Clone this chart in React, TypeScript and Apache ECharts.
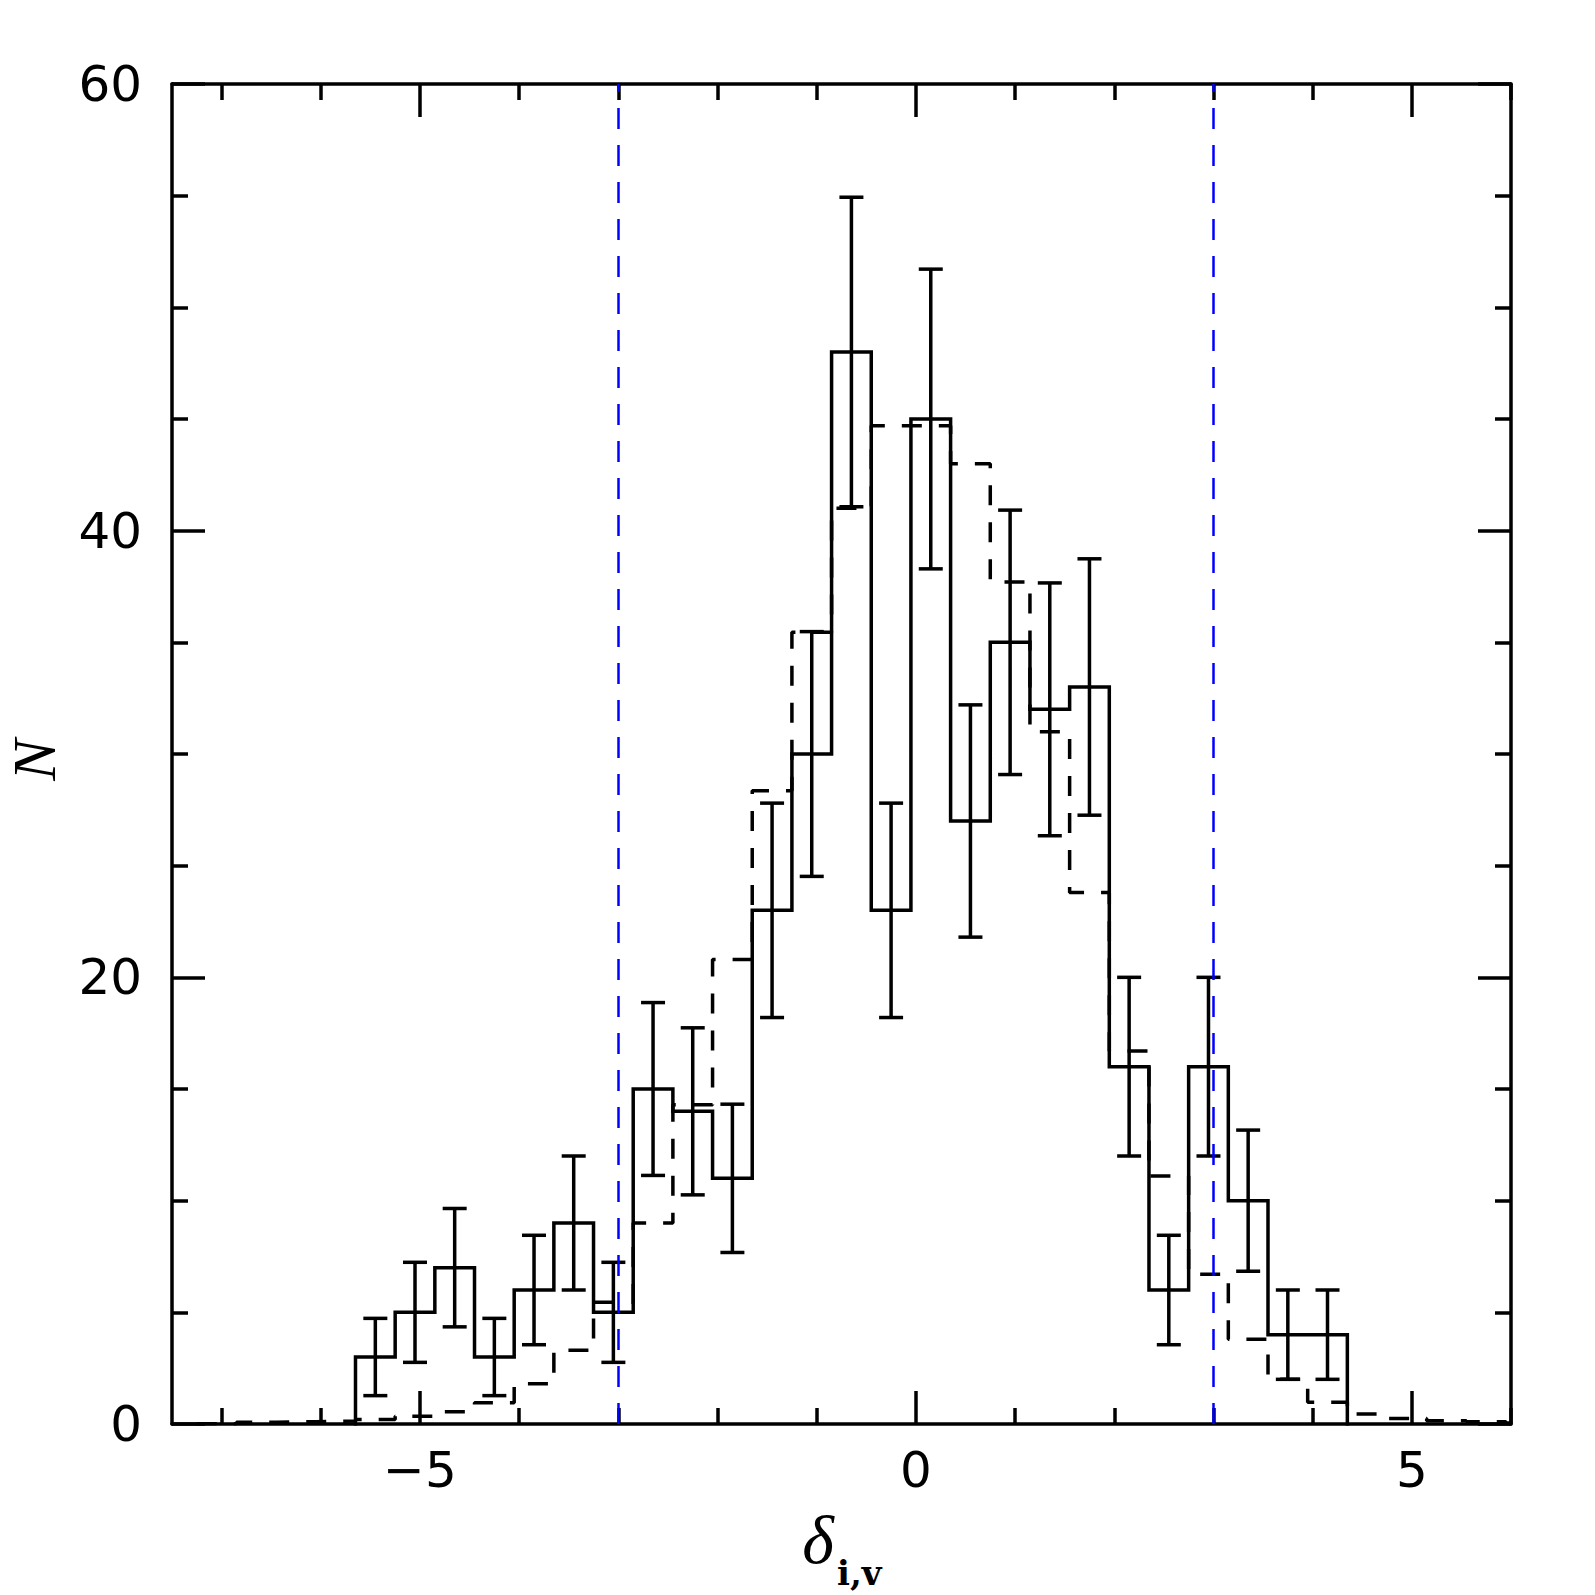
import React, { useEffect, useRef } from "react";
import * as echarts from "echarts";

// Bin edges of the observed histogram (solid)
const solidEdges = [
  -5.65, -5.25, -4.85, -4.45, -4.05, -3.65, -3.25, -2.85, -2.45, -2.05, -1.65,
  -1.25, -0.85, -0.45, -0.05, 0.35, 0.75, 1.15, 1.55, 1.95, 2.35, 2.75, 3.15,
  3.55, 3.95, 4.35,
];
// Bin centres (for error bars)
const binCenters = [
  -5.45, -5.05, -4.65, -4.25, -3.85, -3.45, -3.05, -2.65, -2.25, -1.85, -1.45,
  -1.05, -0.65, -0.25, 0.15, 0.55, 0.95, 1.35, 1.75, 2.15, 2.55, 2.95, 3.35,
  3.75, 4.15,
];
// Observed counts
const solidCounts = [
  3, 5, 7, 3, 6, 9, 5, 15, 14, 11, 23, 30, 48, 23, 45, 27, 35, 32, 33, 16, 6,
  16, 10, 4, 4,
];
// Error bar half-lengths
const solidErrors = [
  1.73, 2.24, 2.65, 1.73, 2.45, 3.0, 2.24, 3.87, 3.74, 3.32, 4.8, 5.48, 6.93,
  4.8, 6.71, 5.2, 5.92, 5.66, 5.74, 4.0, 2.45, 4.0, 3.16, 2.0, 2.0,
];

// Dashed (model) histogram
const dashedEdges = [
  -7.25, -6.85, -6.45, -6.05, -5.65, -5.25, -4.85, -4.45, -4.05, -3.65, -3.25,
  -2.85, -2.45, -2.05, -1.65, -1.25, -0.85, -0.45, -0.05, 0.35, 0.75, 1.15,
  1.55, 1.95, 2.35, 2.75, 3.15, 3.55, 3.95, 4.35, 4.75, 5.15, 5.55, 5.95, 6.0,
];
const dashedValues = [
  0.01, 0.08, 0.1, 0.13, 0.2, 0.35, 0.55, 0.95, 1.8, 3.3, 5.45, 9.0, 14.3,
  20.8, 28.35, 35.45, 41.0, 44.7, 44.7, 43.0, 37.7, 31.0, 23.8, 16.7, 11.1,
  6.7, 3.8, 2.0, 0.97, 0.45, 0.25, 0.15, 0.1, 0.05,
];

// Vertical reference lines
const refLines = [-3, 3];

// Axis ticks / labels
const xMajor = [-5, 0, 5];
const xMinor = [-7, -6, -4, -3, -2, -1, 1, 2, 3, 4, 6];
const yMajor = [0, 20, 40, 60];
const yMinor = [5, 10, 15, 25, 30, 35, 45, 50, 55];

const X_MIN = -7.5;
const X_MAX = 6;
const Y_MIN = 0;
const Y_MAX = 60;

export default function App() {
  const ref = useRef<HTMLDivElement>(null);

  useEffect(() => {
    if (!ref.current) return;
    const chart = echarts.init(ref.current, null, { renderer: "svg" });

    const solidData: number[][] = [[solidEdges[0], 0]];
    solidCounts.forEach((v, i) => solidData.push([solidEdges[i], v]));
    solidData.push([solidEdges[solidEdges.length - 1], solidCounts[solidCounts.length - 1]]);
    solidData.push([solidEdges[solidEdges.length - 1], 0]);

    const dashedData: number[][] = [];
    dashedValues.forEach((v, i) => dashedData.push([dashedEdges[i], v]));
    dashedData.push([dashedEdges[dashedEdges.length - 1], dashedValues[dashedValues.length - 1]]);

    const errData = binCenters.map((c, i) => [c, solidCounts[i], solidErrors[i]]);

    const font = "DejaVu Sans";
    const LW = 3.5;
    const axisLineStyle = { color: "#000", width: LW };
    const tickStyle = { color: "#000", width: LW };

    const xBase = {
      type: "value",
      min: X_MIN,
      max: X_MAX,
      splitLine: { show: false },
    };
    const yBase = {
      type: "value",
      min: Y_MIN,
      max: Y_MAX,
      splitLine: { show: false },
    };

    const option: any = {
      animation: false,
      backgroundColor: "#fff",
      grid: { left: 172, right: 84, top: 84, bottom: 171, containLabel: false },
      xAxis: [
        {
          ...xBase,
          position: "bottom",
          axisLine: { show: true, onZero: false, lineStyle: axisLineStyle },
          axisTick: { show: true, inside: true, length: 33, lineStyle: tickStyle, customValues: xMajor },
          axisLabel: {
            show: true,
            customValues: xMajor,
            margin: 21,
            color: "#000",
            fontFamily: font,
            fontSize: 50,
            formatter: (v: number) => String(v).replace("-", "\u2212"),
          },
        },
        {
          ...xBase,
          position: "bottom",
          axisLine: { show: false, onZero: false },
          axisTick: { show: true, inside: true, length: 16, lineStyle: tickStyle, customValues: xMinor },
          axisLabel: { show: false },
        },
        {
          ...xBase,
          position: "top",
          axisLine: { show: true, onZero: false, lineStyle: axisLineStyle },
          axisTick: { show: true, inside: true, length: 33, lineStyle: tickStyle, customValues: xMajor },
          axisLabel: { show: false },
        },
        {
          ...xBase,
          position: "top",
          axisLine: { show: false, onZero: false },
          axisTick: { show: true, inside: true, length: 16, lineStyle: tickStyle, customValues: xMinor },
          axisLabel: { show: false },
        },
      ],
      yAxis: [
        {
          ...yBase,
          position: "left",
          axisLine: { show: true, onZero: false, lineStyle: axisLineStyle },
          axisTick: { show: true, inside: true, length: 33, lineStyle: tickStyle, customValues: yMajor },
          axisLabel: {
            show: true,
            customValues: yMajor,
            margin: 30,
            color: "#000",
            fontFamily: font,
            fontSize: 50,
          },
        },
        {
          ...yBase,
          position: "left",
          axisLine: { show: false, onZero: false },
          axisTick: { show: true, inside: true, length: 16, lineStyle: tickStyle, customValues: yMinor },
          axisLabel: { show: false },
        },
        {
          ...yBase,
          position: "right",
          axisLine: { show: true, onZero: false, lineStyle: axisLineStyle },
          axisTick: { show: true, inside: true, length: 33, lineStyle: tickStyle, customValues: yMajor },
          axisLabel: { show: false },
        },
        {
          ...yBase,
          position: "right",
          axisLine: { show: false, onZero: false },
          axisTick: { show: true, inside: true, length: 16, lineStyle: tickStyle, customValues: yMinor },
          axisLabel: { show: false },
        },
      ],
      series: [
        {
          type: "line",
          name: "model",
          xAxisIndex: 0,
          yAxisIndex: 0,
          step: "end",
          symbol: "none",
          data: dashedData,
          lineStyle: { color: "#000", width: LW, type: [20, 17] },
          clip: true,
          z: 2,
        },
        {
          type: "line",
          name: "observed",
          xAxisIndex: 0,
          yAxisIndex: 0,
          step: "end",
          symbol: "none",
          data: solidData,
          lineStyle: { color: "#000", width: LW, type: "solid", join: "miter", cap: "square" },
          clip: true,
          z: 3,
          markLine: {
            silent: true,
            symbol: ["none", "none"],
            label: { show: false },
            lineStyle: { color: "#0000ff", width: 2.5, type: [21, 16] },
            data: refLines.map((v) => ({ xAxis: v })),
            z: 5,
          },
        },
        {
          type: "custom",
          name: "errors",
          xAxisIndex: 0,
          yAxisIndex: 0,
          data: errData,
          z: 4,
          renderItem: (params: any, api: any) => {
            const x = api.value(0);
            const y = api.value(1);
            const e = api.value(2);
            const top = api.coord([x, y + e]);
            const bot = api.coord([x, y - e]);
            const hw = 12;
            const st = { stroke: "#000", lineWidth: LW };
            return {
              type: "group",
              children: [
                { type: "line", shape: { x1: top[0], y1: top[1], x2: bot[0], y2: bot[1] }, style: st },
                { type: "line", shape: { x1: top[0] - hw, y1: top[1], x2: top[0] + hw, y2: top[1] }, style: st },
                { type: "line", shape: { x1: bot[0] - hw, y1: bot[1], x2: bot[0] + hw, y2: bot[1] }, style: st },
              ],
            };
          },
        },
      ],
      graphic: [
        {
          type: "text",
          x: 34,
          y: 760,
          rotation: Math.PI / 2,
          style: {
            text: "N",
            font: "italic 62px 'Liberation Serif'",
            fill: "#000",
            textAlign: "center",
            textVerticalAlign: "middle",
          },
        },
        {
          type: "text",
          x: 818,
          y: 1540,
          style: {
            text: "\u03b4",
            font: "italic 68px 'Liberation Serif'",
            fill: "#000",
            textAlign: "center",
            textVerticalAlign: "middle",
          },
        },
        {
          type: "text",
          x: 837,
          y: 1573,
          style: {
            text: "i,v",
            font: "bold 34px 'DejaVu Serif'",
            fill: "#000",
            textAlign: "left",
            textVerticalAlign: "middle",
          },
        },
      ],
    };

    chart.setOption(option);
    return () => chart.dispose();
  }, []);

  return (
    <div
      ref={ref}
      style={{ position: "absolute", left: 0, top: 0, width: 1595, height: 1595 }}
    />
  );
}
